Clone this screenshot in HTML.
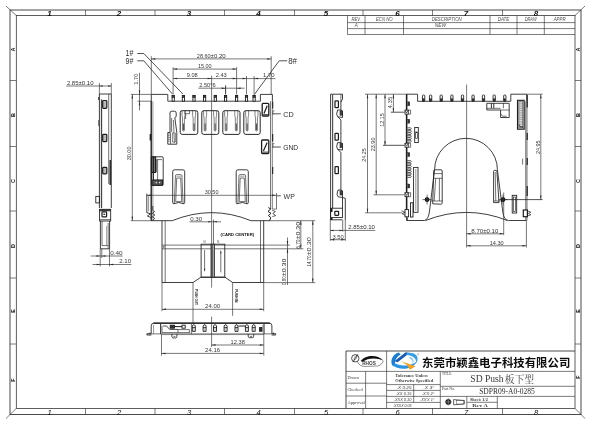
<!DOCTYPE html>
<html><head><meta charset="utf-8"><title>SD Push</title>
<style>html,body{margin:0;padding:0;background:#fff;}body{width:600px;height:424px;overflow:hidden;font-family:"Liberation Sans",sans-serif;}svg{display:block;will-change:transform}</style>
</head><body>
<svg width="600" height="424" viewBox="0 0 600 424" fill="none" stroke-linecap="butt" stroke-linejoin="miter">
<rect x="0" y="0" width="600" height="424" fill="#fff"/>
<rect x="10" y="10" width="571" height="404.5" rx="0" stroke="#2a2a2a" stroke-width="0.85" fill="none"/>
<rect x="16.3" y="15.5" width="558.7" height="392.9" rx="0" stroke="#2a2a2a" stroke-width="0.75" fill="none"/>
<path d="M16.3 15.5L6 6" stroke="#2a2a2a" stroke-width="0.62"/>
<path d="M575 15.5L585 6" stroke="#2a2a2a" stroke-width="0.62"/>
<path d="M16.3 408.4L6 418.5" stroke="#2a2a2a" stroke-width="0.62"/>
<path d="M575 408.4L585 418.5" stroke="#2a2a2a" stroke-width="0.62"/>
<path d="M85.5 10L85.5 15.5" stroke="#2a2a2a" stroke-width="0.62"/>
<path d="M85.5 408.4L85.5 414.5" stroke="#2a2a2a" stroke-width="0.62"/>
<path d="M155 10L155 15.5" stroke="#2a2a2a" stroke-width="0.62"/>
<path d="M155 408.4L155 414.5" stroke="#2a2a2a" stroke-width="0.62"/>
<path d="M224.5 10L224.5 15.5" stroke="#2a2a2a" stroke-width="0.62"/>
<path d="M224.5 408.4L224.5 414.5" stroke="#2a2a2a" stroke-width="0.62"/>
<path d="M294.5 10L294.5 15.5" stroke="#2a2a2a" stroke-width="0.62"/>
<path d="M294.5 408.4L294.5 414.5" stroke="#2a2a2a" stroke-width="0.62"/>
<path d="M363 10L363 15.5" stroke="#2a2a2a" stroke-width="0.62"/>
<path d="M363 408.4L363 414.5" stroke="#2a2a2a" stroke-width="0.62"/>
<path d="M432.5 10L432.5 15.5" stroke="#2a2a2a" stroke-width="0.62"/>
<path d="M432.5 408.4L432.5 414.5" stroke="#2a2a2a" stroke-width="0.62"/>
<path d="M502.5 10L502.5 15.5" stroke="#2a2a2a" stroke-width="0.62"/>
<path d="M502.5 408.4L502.5 414.5" stroke="#2a2a2a" stroke-width="0.62"/>
<text x="49.5" y="15.7" font-family="Liberation Sans" font-size="8" text-anchor="middle" font-style="italic" font-weight="bold" fill="#111" stroke="none">1</text>
<text x="49.5" y="414.5" font-family="Liberation Sans" font-size="7.6" text-anchor="middle" font-style="italic" fill="#111" stroke="none">1</text>
<text x="119" y="15.7" font-family="Liberation Sans" font-size="8" text-anchor="middle" font-style="italic" font-weight="bold" fill="#111" stroke="none">2</text>
<text x="119" y="414.5" font-family="Liberation Sans" font-size="7.6" text-anchor="middle" font-style="italic" fill="#111" stroke="none">2</text>
<text x="189" y="15.7" font-family="Liberation Sans" font-size="8" text-anchor="middle" font-style="italic" font-weight="bold" fill="#111" stroke="none">3</text>
<text x="189" y="414.5" font-family="Liberation Sans" font-size="7.6" text-anchor="middle" font-style="italic" fill="#111" stroke="none">3</text>
<text x="258.5" y="15.7" font-family="Liberation Sans" font-size="8" text-anchor="middle" font-style="italic" font-weight="bold" fill="#111" stroke="none">4</text>
<text x="258.5" y="414.5" font-family="Liberation Sans" font-size="7.6" text-anchor="middle" font-style="italic" fill="#111" stroke="none">4</text>
<text x="326" y="15.7" font-family="Liberation Sans" font-size="8" text-anchor="middle" font-style="italic" font-weight="bold" fill="#111" stroke="none">5</text>
<text x="326" y="414.5" font-family="Liberation Sans" font-size="7.6" text-anchor="middle" font-style="italic" fill="#111" stroke="none">5</text>
<text x="397.5" y="15.7" font-family="Liberation Sans" font-size="8" text-anchor="middle" font-style="italic" font-weight="bold" fill="#111" stroke="none">6</text>
<text x="397.5" y="414.5" font-family="Liberation Sans" font-size="7.6" text-anchor="middle" font-style="italic" fill="#111" stroke="none">6</text>
<text x="466" y="15.7" font-family="Liberation Sans" font-size="8" text-anchor="middle" font-style="italic" font-weight="bold" fill="#111" stroke="none">7</text>
<text x="466" y="414.5" font-family="Liberation Sans" font-size="7.6" text-anchor="middle" font-style="italic" fill="#111" stroke="none">7</text>
<text x="536" y="15.7" font-family="Liberation Sans" font-size="8" text-anchor="middle" font-style="italic" font-weight="bold" fill="#111" stroke="none">8</text>
<text x="536" y="414.5" font-family="Liberation Sans" font-size="7.6" text-anchor="middle" font-style="italic" fill="#111" stroke="none">8</text>
<path d="M10 80.5L16.3 80.5" stroke="#2a2a2a" stroke-width="0.62"/>
<path d="M575 80.5L581 80.5" stroke="#2a2a2a" stroke-width="0.62"/>
<path d="M10 146.5L16.3 146.5" stroke="#2a2a2a" stroke-width="0.62"/>
<path d="M575 146.5L581 146.5" stroke="#2a2a2a" stroke-width="0.62"/>
<path d="M10 211L16.3 211" stroke="#2a2a2a" stroke-width="0.62"/>
<path d="M575 211L581 211" stroke="#2a2a2a" stroke-width="0.62"/>
<path d="M10 278L16.3 278" stroke="#2a2a2a" stroke-width="0.62"/>
<path d="M575 278L581 278" stroke="#2a2a2a" stroke-width="0.62"/>
<path d="M10 344L16.3 344" stroke="#2a2a2a" stroke-width="0.62"/>
<path d="M575 344L581 344" stroke="#2a2a2a" stroke-width="0.62"/>
<text x="15.3" y="49.5" font-family="Liberation Sans" font-size="5.4" text-anchor="middle" transform="rotate(-90 15.3 49.5)" font-weight="bold" fill="#111" stroke="none">A</text>
<text x="580.3" y="49.5" font-family="Liberation Sans" font-size="5.4" text-anchor="middle" transform="rotate(-90 580.3 49.5)" font-weight="bold" fill="#111" stroke="none">A</text>
<text x="15.3" y="115" font-family="Liberation Sans" font-size="5.4" text-anchor="middle" transform="rotate(-90 15.3 115)" font-weight="bold" fill="#111" stroke="none">B</text>
<text x="580.3" y="115" font-family="Liberation Sans" font-size="5.4" text-anchor="middle" transform="rotate(-90 580.3 115)" font-weight="bold" fill="#111" stroke="none">B</text>
<text x="15.3" y="181" font-family="Liberation Sans" font-size="5.4" text-anchor="middle" transform="rotate(-90 15.3 181)" font-weight="bold" fill="#111" stroke="none">C</text>
<text x="580.3" y="181" font-family="Liberation Sans" font-size="5.4" text-anchor="middle" transform="rotate(-90 580.3 181)" font-weight="bold" fill="#111" stroke="none">C</text>
<text x="15.3" y="246" font-family="Liberation Sans" font-size="5.4" text-anchor="middle" transform="rotate(-90 15.3 246)" font-weight="bold" fill="#111" stroke="none">D</text>
<text x="580.3" y="246" font-family="Liberation Sans" font-size="5.4" text-anchor="middle" transform="rotate(-90 580.3 246)" font-weight="bold" fill="#111" stroke="none">D</text>
<text x="15.3" y="311" font-family="Liberation Sans" font-size="5.4" text-anchor="middle" transform="rotate(-90 15.3 311)" font-weight="bold" fill="#111" stroke="none">E</text>
<text x="580.3" y="311" font-family="Liberation Sans" font-size="5.4" text-anchor="middle" transform="rotate(-90 580.3 311)" font-weight="bold" fill="#111" stroke="none">E</text>
<text x="15.3" y="380" font-family="Liberation Sans" font-size="5.4" text-anchor="middle" transform="rotate(-90 15.3 380)" font-weight="bold" fill="#111" stroke="none">F</text>
<text x="580.3" y="377" font-family="Liberation Sans" font-size="5.4" text-anchor="middle" transform="rotate(-90 580.3 377)" font-weight="bold" fill="#111" stroke="none">F</text>
<path d="M347.5 22.6L575 22.6" stroke="#2a2a2a" stroke-width="0.62"/>
<path d="M347.5 28.6L575 28.6" stroke="#2a2a2a" stroke-width="0.62"/>
<path d="M347.5 34.5L575 34.5" stroke="#2a2a2a" stroke-width="0.62"/>
<path d="M347.5 15.5L347.5 34.5" stroke="#2a2a2a" stroke-width="0.62"/>
<path d="M365 15.5L365 34.5" stroke="#2a2a2a" stroke-width="0.62"/>
<path d="M403.5 15.5L403.5 34.5" stroke="#2a2a2a" stroke-width="0.62"/>
<path d="M490 15.5L490 34.5" stroke="#2a2a2a" stroke-width="0.62"/>
<path d="M517 15.5L517 34.5" stroke="#2a2a2a" stroke-width="0.62"/>
<path d="M544.3 15.5L544.3 34.5" stroke="#2a2a2a" stroke-width="0.62"/>
<text x="356.25" y="20.7" font-family="Liberation Sans" font-size="4.5" text-anchor="middle" font-style="italic" textLength="9.4" lengthAdjust="spacingAndGlyphs" fill="#505050" stroke="none">REV.</text>
<text x="384.25" y="20.7" font-family="Liberation Sans" font-size="4.5" text-anchor="middle" font-style="italic" textLength="16.5" lengthAdjust="spacingAndGlyphs" fill="#505050" stroke="none">ECN NO</text>
<text x="446.75" y="20.7" font-family="Liberation Sans" font-size="4.5" text-anchor="middle" font-style="italic" textLength="30" lengthAdjust="spacingAndGlyphs" fill="#505050" stroke="none">DESCRIPTION</text>
<text x="503.5" y="20.7" font-family="Liberation Sans" font-size="4.5" text-anchor="middle" font-style="italic" textLength="11.7" lengthAdjust="spacingAndGlyphs" fill="#505050" stroke="none">DATE</text>
<text x="530.65" y="20.7" font-family="Liberation Sans" font-size="4.5" text-anchor="middle" font-style="italic" textLength="12" lengthAdjust="spacingAndGlyphs" fill="#505050" stroke="none">DRAW</text>
<text x="559.65" y="20.7" font-family="Liberation Sans" font-size="4.5" text-anchor="middle" font-style="italic" textLength="12" lengthAdjust="spacingAndGlyphs" fill="#505050" stroke="none">APPR</text>
<text x="356.25" y="26.9" font-family="Liberation Sans" font-size="4.5" text-anchor="middle" font-style="italic" fill="#505050" stroke="none">A</text>
<text x="440.35" y="26.9" font-family="Liberation Sans" font-size="4.5" text-anchor="middle" font-style="italic" textLength="11.3" lengthAdjust="spacingAndGlyphs" fill="#505050" stroke="none">NEW</text>
<path d="M346 351L575 351" stroke="#2a2a2a" stroke-width="0.85"/>
<path d="M346 351L346 408.4" stroke="#2a2a2a" stroke-width="0.85"/>
<path d="M346 371.4L575 371.4" stroke="#2a2a2a" stroke-width="0.62"/>
<path d="M386.6 351L386.6 408.4" stroke="#2a2a2a" stroke-width="0.62"/>
<path d="M365.6 371.4L365.6 408.4" stroke="#2a2a2a" stroke-width="0.62"/>
<path d="M346 383.2L386.6 383.2" stroke="#2a2a2a" stroke-width="0.62"/>
<path d="M346 396L386.6 396" stroke="#2a2a2a" stroke-width="0.62"/>
<path d="M386.6 384.6L440.3 384.6" stroke="#2a2a2a" stroke-width="0.62"/>
<path d="M386.6 390.4L440.3 390.4" stroke="#2a2a2a" stroke-width="0.62"/>
<path d="M386.6 396.4L440.3 396.4" stroke="#2a2a2a" stroke-width="0.62"/>
<path d="M386.6 402.4L440.3 402.4" stroke="#2a2a2a" stroke-width="0.62"/>
<path d="M413.7 384.6L413.7 402.4" stroke="#2a2a2a" stroke-width="0.62"/>
<path d="M440.3 371.4L440.3 408.4" stroke="#2a2a2a" stroke-width="0.62"/>
<path d="M440.3 386.3L575 386.3" stroke="#2a2a2a" stroke-width="0.62"/>
<path d="M440.3 396.4L575 396.4" stroke="#2a2a2a" stroke-width="0.62"/>
<path d="M466.8 396.4L466.8 408.4" stroke="#2a2a2a" stroke-width="0.62"/>
<path d="M497.3 396.4L497.3 408.4" stroke="#2a2a2a" stroke-width="0.62"/>
<path d="M466.8 402.3L497.3 402.3" stroke="#2a2a2a" stroke-width="0.62"/>
<text x="347.4" y="378.6" font-family="Liberation Serif" font-size="4.3" textLength="11.4" lengthAdjust="spacingAndGlyphs" fill="#3c3c3c" stroke="none">Drawn</text>
<text x="347.4" y="391.2" font-family="Liberation Serif" font-size="4.3" textLength="15.2" lengthAdjust="spacingAndGlyphs" fill="#3c3c3c" stroke="none">Checked</text>
<text x="347.4" y="403.8" font-family="Liberation Serif" font-size="4.3" textLength="17.4" lengthAdjust="spacingAndGlyphs" fill="#3c3c3c" stroke="none">Approval</text>
<text x="411.6" y="376.8" font-family="Liberation Serif" font-size="4.5" text-anchor="middle" font-weight="bold" textLength="32.5" lengthAdjust="spacingAndGlyphs" fill="#3c3c3c" stroke="none">Tolerance Unless</text>
<text x="414.2" y="382" font-family="Liberation Serif" font-size="4.5" text-anchor="middle" font-weight="bold" textLength="37.9" lengthAdjust="spacingAndGlyphs" fill="#3c3c3c" stroke="none">Otherwise Specified</text>
<text x="396.8" y="389" font-family="Liberation Sans" font-size="3.6" font-style="italic" textLength="14.7" lengthAdjust="spacingAndGlyphs" fill="#3c3c3c" stroke="none">.X  0.25</text>
<text x="423.4" y="389" font-family="Liberation Sans" font-size="3.6" font-style="italic" textLength="10.9" lengthAdjust="spacingAndGlyphs" fill="#3c3c3c" stroke="none">.X   3°</text>
<text x="396" y="394.9" font-family="Liberation Sans" font-size="3.6" font-style="italic" textLength="15.5" lengthAdjust="spacingAndGlyphs" fill="#3c3c3c" stroke="none">.XX  0.15</text>
<text x="421.9" y="394.9" font-family="Liberation Sans" font-size="3.6" font-style="italic" textLength="12.4" lengthAdjust="spacingAndGlyphs" fill="#3c3c3c" stroke="none">.X'X  2°</text>
<text x="393.8" y="400.9" font-family="Liberation Sans" font-size="3.6" font-style="italic" textLength="17.7" lengthAdjust="spacingAndGlyphs" fill="#3c3c3c" stroke="none">.XXX  0.10</text>
<text x="420.2" y="400.9" font-family="Liberation Sans" font-size="3.6" font-style="italic" textLength="14.1" lengthAdjust="spacingAndGlyphs" fill="#3c3c3c" stroke="none">.XX'X  1°</text>
<text x="393" y="406.8" font-family="Liberation Sans" font-size="3.6" font-style="italic" textLength="18.5" lengthAdjust="spacingAndGlyphs" fill="#3c3c3c" stroke="none">.XXXX  0.05</text>
<text x="441.9" y="375.4" font-family="Liberation Serif" font-size="3.7" textLength="10.2" lengthAdjust="spacingAndGlyphs" fill="#3c3c3c" stroke="none">TITLE:</text>
<text x="441.9" y="390.4" font-family="Liberation Serif" font-size="3.7" textLength="13.3" lengthAdjust="spacingAndGlyphs" fill="#3c3c3c" stroke="none">Part No.</text>
<text x="469.9" y="400.9" font-family="Liberation Serif" font-size="3.5" font-weight="bold" textLength="17.9" lengthAdjust="spacingAndGlyphs" fill="#3c3c3c" stroke="none">Sheet:  1/2</text>
<text x="472.2" y="407" font-family="Liberation Serif" font-size="3.5" font-weight="bold" textLength="15.6" lengthAdjust="spacingAndGlyphs" fill="#3c3c3c" stroke="none">Rev    A</text>
<text x="470.3" y="382.2" font-family="Liberation Serif" font-size="9.6" fill="#3a3a3a" stroke="none">SD Push</text>
<text x="504.7" y="382.6" font-family="'Liberation Serif', 'Noto Serif CJK SC', serif" font-size="9.8" textLength="29.4" lengthAdjust="spacingAndGlyphs" fill="#444" stroke="none">板下型</text>
<text x="507" y="394.4" font-family="Liberation Serif" font-size="7.4" text-anchor="middle" textLength="55.6" lengthAdjust="spacingAndGlyphs" fill="#2c2c2c" stroke="none">SDPR09-A0-0285</text>
<circle cx="448.3" cy="401.9" r="2.7" stroke="#222" stroke-width="0.4" fill="#222"/>
<path d="M444.6 401.9L452 401.9" stroke="#222" stroke-width="0.35"/>
<path d="M448.3 398.2L448.3 405.6" stroke="#222" stroke-width="0.35"/>
<path d="M446.2 401.9L450.4 401.9" stroke="#fff" stroke-width="0.35"/>
<path d="M448.3 399.8L448.3 404" stroke="#fff" stroke-width="0.35"/>
<path d="M453.6 399.6L464.4 400.5L464.4 403.9L453.6 404.8Z" stroke="#222" stroke-width="0.7" fill="none"/>
<rect x="456.2" y="400.3" width="7" height="3.8" rx="0" stroke="#222" stroke-width="0.4" fill="none"/>
<text x="422.1" y="366.7" font-family="'Liberation Sans', 'Noto Sans CJK SC', sans-serif" font-size="11.4" font-weight="bold" textLength="148.2" lengthAdjust="spacingAndGlyphs" fill="#0c0c0c" stroke="none">东莞市颖鑫电子科技有限公司</text>
<path d="M398.67 352.6C392.8 354.33 389.87 360.47 392.27 365.4L395.33 365.93C394 361.67 396 357.27 400.8 354.33Z" fill="#1c7ed2"/>
<path d="M405.6 352.2L409.6 353L397.6 362.33L394.4 361.27Z" fill="#1a5cb0"/>
<path d="M407.73 352.73C415.47 351.93 420 356.73 416.4 362.87C416.13 358.6 413.33 355.67 405.87 354.87Z" fill="#3aa0e6"/>
<path d="M392.53 365C398.67 371.13 414.13 370.07 417.47 360.2C413.87 365.53 402.67 367.13 395.73 363.4Z" fill="#2b93e0"/>
<path d="M410.13 356.73C413.6 358.6 414.67 361.53 412.53 364.47C413.07 361.53 412 359.4 409.07 358.07Z" fill="#8ccbf4"/>
<path d="M401.6 361.27L415.47 366.2L409.87 369.67L407.2 365.13Z" fill="#f5a21e"/>
<circle cx="418.13" cy="354.33" r="0.95" stroke="#666" stroke-width="0.3" fill="none"/>
<circle cx="355.3" cy="358.3" r="3.7" stroke="#222" stroke-width="0.8" fill="none"/>
<path d="M352.9 362.2L357.7 354.4" stroke="#222" stroke-width="0.8"/>
<ellipse cx="355.6" cy="357.6" rx="1.0" ry="2.6" transform="rotate(32 355.6 357.6)" fill="none" stroke="#333" stroke-width="0.4"/>
<path d="M360.6 361C365 355.2 377 353.6 383.2 360.6C377 357.4 368 357.6 362.4 361.8Z" fill="#111"/>
<path d="M357.4 361.6C358.6 365 361.6 366.6 365.6 366.4L377.6 366C381 365.4 382.8 363 383.2 360.6" fill="none" stroke="#222" stroke-width="0.5"/>
<text x="369" y="365.3" font-family="Liberation Sans" font-size="4.6" text-anchor="middle" font-weight="bold" textLength="13.6" lengthAdjust="spacingAndGlyphs" fill="#3a3a3a" stroke="none">RHOS</text>
<path d="M151.3 220.7L151.3 94.4L167.8 94.4L167.8 101.2L260.4 101.2L260.4 94.4L272.4 94.4L272.4 101.2" stroke="#1c1c1c" stroke-width="0.85" fill="none"/>
<path d="M151.15 101.2L151.15 220.7" stroke="#1c1c1c" stroke-width="1.0"/>
<path d="M152.9 101.2L152.9 220.7" stroke="#555" stroke-width="0.62"/>
<path d="M150.4 134L150.4 140.5" stroke="#1c1c1c" stroke-width="1.5"/>
<path d="M270.5 101.2L270.5 209" stroke="#555" stroke-width="0.8"/>
<path d="M272.3 101.2L272.3 209" stroke="#555" stroke-width="0.8"/>
<path d="M272.7 101.4L272.7 108.6" stroke="#1c1c1c" stroke-width="1.1"/>
<path d="M272.7 134L272.7 141.4" stroke="#1c1c1c" stroke-width="1.1"/>
<path d="M272.7 167L272.7 174" stroke="#1c1c1c" stroke-width="1.1"/>
<rect x="172.1" y="95.4" width="2.2" height="5.8" rx="0" stroke="#1c1c1c" stroke-width="0.9" fill="#fff"/>
<rect x="172.1" y="95.4" width="2.2" height="2.2" rx="0" stroke="#1c1c1c" stroke-width="0.6" fill="#444"/>
<rect x="182.3" y="95.4" width="2.2" height="5.8" rx="0" stroke="#1c1c1c" stroke-width="0.9" fill="#fff"/>
<rect x="182.3" y="95.4" width="2.2" height="2.2" rx="0" stroke="#1c1c1c" stroke-width="0.6" fill="#444"/>
<rect x="192.9" y="95.4" width="2.2" height="5.8" rx="0" stroke="#1c1c1c" stroke-width="0.9" fill="#fff"/>
<rect x="192.9" y="95.4" width="2.2" height="2.2" rx="0" stroke="#1c1c1c" stroke-width="0.6" fill="#444"/>
<rect x="203.5" y="95.4" width="2.2" height="5.8" rx="0" stroke="#1c1c1c" stroke-width="0.9" fill="#fff"/>
<rect x="203.5" y="95.4" width="2.2" height="2.2" rx="0" stroke="#1c1c1c" stroke-width="0.6" fill="#444"/>
<rect x="214.2" y="95.4" width="2.2" height="5.8" rx="0" stroke="#1c1c1c" stroke-width="0.9" fill="#fff"/>
<rect x="214.2" y="95.4" width="2.2" height="2.2" rx="0" stroke="#1c1c1c" stroke-width="0.6" fill="#444"/>
<rect x="224.5" y="95.4" width="2.2" height="5.8" rx="0" stroke="#1c1c1c" stroke-width="0.9" fill="#fff"/>
<rect x="224.5" y="95.4" width="2.2" height="2.2" rx="0" stroke="#1c1c1c" stroke-width="0.6" fill="#444"/>
<rect x="235.5" y="95.4" width="2.2" height="5.8" rx="0" stroke="#1c1c1c" stroke-width="0.9" fill="#fff"/>
<rect x="235.5" y="95.4" width="2.2" height="2.2" rx="0" stroke="#1c1c1c" stroke-width="0.6" fill="#444"/>
<rect x="245.4" y="95.4" width="2.2" height="5.8" rx="0" stroke="#1c1c1c" stroke-width="0.9" fill="#fff"/>
<rect x="245.4" y="95.4" width="2.2" height="2.2" rx="0" stroke="#1c1c1c" stroke-width="0.6" fill="#444"/>
<rect x="253" y="95.4" width="2.2" height="5.8" rx="0" stroke="#1c1c1c" stroke-width="0.9" fill="#fff"/>
<rect x="253" y="95.4" width="2.2" height="2.2" rx="0" stroke="#1c1c1c" stroke-width="0.6" fill="#444"/>
<rect x="180.2" y="110.7" width="17.6" height="23.7" rx="2" stroke="#1c1c1c" stroke-width="0.95" fill="none"/>
<path d="M182 110.7L182 115.4L182.55 118L182.55 130.4Q183.5 131.8 184.45 130.4L184.45 118L185 115.4L185 110.7" stroke="#333" stroke-width="0.6" fill="none"/>
<path d="M183.5 123.5L183.5 130.4" stroke="#555" stroke-width="1.2"/>
<path d="M192.6 110.7L192.6 115.4L193.15 118L193.15 130.4Q194.1 131.8 195.05 130.4L195.05 118L195.6 115.4L195.6 110.7" stroke="#333" stroke-width="0.6" fill="none"/>
<path d="M194.1 123.5L194.1 130.4" stroke="#555" stroke-width="1.2"/>
<rect x="201.8" y="110.7" width="17" height="23.7" rx="2" stroke="#1c1c1c" stroke-width="0.95" fill="none"/>
<path d="M203.6 110.7L203.6 115.4L204.15 118L204.15 130.4Q205.1 131.8 206.05 130.4L206.05 118L206.6 115.4L206.6 110.7" stroke="#333" stroke-width="0.6" fill="none"/>
<path d="M205.1 123.5L205.1 130.4" stroke="#555" stroke-width="1.2"/>
<path d="M213.6 110.7L213.6 115.4L214.15 118L214.15 130.4Q215.1 131.8 216.05 130.4L216.05 118L216.6 115.4L216.6 110.7" stroke="#333" stroke-width="0.6" fill="none"/>
<path d="M215.1 123.5L215.1 130.4" stroke="#555" stroke-width="1.2"/>
<rect x="222.8" y="110.7" width="17.2" height="23.7" rx="2" stroke="#1c1c1c" stroke-width="0.95" fill="none"/>
<path d="M224.6 110.7L224.6 115.4L225.15 118L225.15 130.4Q226.1 131.8 227.05 130.4L227.05 118L227.6 115.4L227.6 110.7" stroke="#333" stroke-width="0.6" fill="none"/>
<path d="M226.1 123.5L226.1 130.4" stroke="#555" stroke-width="1.2"/>
<path d="M234.8 110.7L234.8 115.4L235.35 118L235.35 130.4Q236.3 131.8 237.25 130.4L237.25 118L237.8 115.4L237.8 110.7" stroke="#333" stroke-width="0.6" fill="none"/>
<path d="M236.3 123.5L236.3 130.4" stroke="#555" stroke-width="1.2"/>
<rect x="243.8" y="110.7" width="16.4" height="23.7" rx="2" stroke="#1c1c1c" stroke-width="0.95" fill="none"/>
<path d="M245.6 110.7L245.6 115.4L246.15 118L246.15 130.4Q247.1 131.8 248.05 130.4L248.05 118L248.6 115.4L248.6 110.7" stroke="#333" stroke-width="0.6" fill="none"/>
<path d="M247.1 123.5L247.1 130.4" stroke="#555" stroke-width="1.2"/>
<path d="M255 110.7L255 115.4L255.55 118L255.55 130.4Q256.5 131.8 257.45 130.4L257.45 118L258 115.4L258 110.7" stroke="#333" stroke-width="0.6" fill="none"/>
<path d="M256.5 123.5L256.5 130.4" stroke="#555" stroke-width="1.2"/>
<path d="M185 110.7L185 113.7L189.5 113.7L189.5 110.7" stroke="#1c1c1c" stroke-width="0.62" fill="none"/>
<path d="M185.6 113.7L185.6 119" stroke="#1c1c1c" stroke-width="0.62"/>
<path d="M170 132.5L170 113Q170 111.2 171.8 111.2L174.4 111.2Q176.2 111.2 176.2 113L176.2 116.6L174.8 117.6L176.8 132.5L176.8 144.2L167.8 144.2L167.8 132.5Z" stroke="#1c1c1c" stroke-width="0.85" fill="none"/>
<path d="M167.8 134L170.6 134" stroke="#1c1c1c" stroke-width="0.5"/>
<path d="M167.8 135.8L170.6 135.8" stroke="#1c1c1c" stroke-width="0.5"/>
<path d="M167.8 137.6L170.6 137.6" stroke="#1c1c1c" stroke-width="0.5"/>
<path d="M167.8 139.4L170.6 139.4" stroke="#1c1c1c" stroke-width="0.5"/>
<path d="M167.8 141.2L170.6 141.2" stroke="#1c1c1c" stroke-width="0.5"/>
<path d="M170.6 132.5L170.6 144.2" stroke="#1c1c1c" stroke-width="0.62"/>
<path d="M171.6 118L171.6 132" stroke="#1c1c1c" stroke-width="0.62"/>
<path d="M173.4 120L174.4 143" stroke="#1c1c1c" stroke-width="0.62"/>
<rect x="172.4" y="133" width="3" height="9" rx="0" stroke="#555" stroke-width="0.62" fill="none"/>
<rect x="262.2" y="103.3" width="6.6" height="12.7" rx="0.9" stroke="#1c1c1c" stroke-width="1.3" fill="#fff"/>
<path d="M264 113.6L267.2 105.7" stroke="#1c1c1c" stroke-width="1.2"/>
<path d="M263.1 114.6L268 114.6" stroke="#333" stroke-width="0.9"/>
<rect x="261.6" y="140" width="7.2" height="13.5" rx="0.9" stroke="#1c1c1c" stroke-width="1.3" fill="#fff"/>
<path d="M263.4 151.1L267.2 142.4" stroke="#1c1c1c" stroke-width="1.2"/>
<path d="M262.5 152.1L268 152.1" stroke="#333" stroke-width="0.9"/>
<rect x="151.3" y="156.8" width="11.9" height="28.6" rx="0.8" stroke="#1c1c1c" stroke-width="0.85" fill="none"/>
<rect x="151.6" y="157" width="4" height="15.5" rx="0" stroke="#1c1c1c" stroke-width="1.1" fill="#777"/>
<path d="M153.4 157L153.4 180" stroke="#1c1c1c" stroke-width="1.0"/>
<path d="M156.4 159.6L162 159.6" stroke="#1c1c1c" stroke-width="0.62"/>
<path d="M156.4 159.6L156.4 172" stroke="#1c1c1c" stroke-width="0.62"/>
<path d="M157.6 159.6L157.6 180" stroke="#1c1c1c" stroke-width="0.62"/>
<rect x="152.8" y="180" width="9.6" height="5.2" rx="0" stroke="#1c1c1c" stroke-width="1.1" fill="#666"/>
<rect x="155.2" y="181.4" width="2.2" height="2.4" rx="0" stroke="#222" stroke-width="0.5" fill="#ddd"/>
<rect x="158.6" y="181.4" width="2.2" height="2.4" rx="0" stroke="#222" stroke-width="0.5" fill="#ddd"/>
<path d="M173.3 203.8L172.7 202.6L172.7 171.6Q172.7 169.8 174.5 169.8L182.9 169.8Q184.7 169.8 184.7 171.6L184.7 202.6L184.1 203.8" stroke="#1c1c1c" stroke-width="0.85" fill="none"/>
<path d="M174.3 203.8L175.5 175.6Q175.6 174.6 176.5 174.6L180.9 174.6Q181.8 174.6 181.9 175.6L183.1 203.8" stroke="#1c1c1c" stroke-width="0.62" fill="none"/>
<path d="M175.7 201.6L176.7 178L180.7 178L181.7 201.6" stroke="#1c1c1c" stroke-width="0.62" fill="none"/>
<path d="M176.3 176.2L181.1 176.2" stroke="#666" stroke-width="0.62"/>
<path d="M173.3 203.8Q178.7 201.2 184.1 203.8" stroke="#1c1c1c" stroke-width="0.85" fill="none"/>
<path d="M175.7 201.6L181.7 201.6" stroke="#1c1c1c" stroke-width="0.62"/>
<path d="M236.8 203.8L236.2 202.6L236.2 171.6Q236.2 169.8 238 169.8L246.5 169.8Q248.3 169.8 248.3 171.6L248.3 202.6L247.7 203.8" stroke="#1c1c1c" stroke-width="0.85" fill="none"/>
<path d="M237.8 203.8L239 175.6Q239.1 174.6 240 174.6L244.5 174.6Q245.4 174.6 245.5 175.6L246.7 203.8" stroke="#1c1c1c" stroke-width="0.62" fill="none"/>
<path d="M239.2 201.6L240.2 178L244.3 178L245.3 201.6" stroke="#1c1c1c" stroke-width="0.62" fill="none"/>
<path d="M239.8 176.2L244.7 176.2" stroke="#666" stroke-width="0.62"/>
<path d="M236.8 203.8Q242.25 201.2 247.7 203.8" stroke="#1c1c1c" stroke-width="0.85" fill="none"/>
<path d="M239.2 201.6L245.3 201.6" stroke="#1c1c1c" stroke-width="0.62"/>
<path d="M151.3 220.7L172.2 220.7Q211.6 204.6 251 220.7L270 220.7" stroke="#1c1c1c" stroke-width="0.85" fill="none"/>
<path d="M146.8 193.6L146.8 212.6L150.6 213.8L147.4 216L150.8 217.6" stroke="#1c1c1c" stroke-width="0.85" fill="none"/>
<path d="M148.6 196L148.6 211.4" stroke="#555" stroke-width="0.62"/>
<path d="M152.8 206L152.8 210.4L154.6 211.6L152.4 213.4L154.8 215L152.4 216.8L154.6 218.4L152.6 220.7" stroke="#1c1c1c" stroke-width="0.8" fill="none"/>
<path d="M268.4 207.6L270.8 209L268 211.4L271 213.4L268.4 215.6L270.8 217.6L269.6 220.7" stroke="#1c1c1c" stroke-width="1.0" fill="none"/>
<path d="M272.2 210.2L275.4 211.6L272.8 213.4L275.6 215.6L272.4 216.6" stroke="#1c1c1c" stroke-width="0.7" fill="none"/>
<path d="M162 220.7L162 282.5" stroke="#1c1c1c" stroke-width="0.85"/>
<path d="M165.2 220.7L165.2 282.5" stroke="#1c1c1c" stroke-width="0.62"/>
<path d="M263.7 220.7L263.7 282.5" stroke="#1c1c1c" stroke-width="0.85"/>
<path d="M260.5 220.7L260.5 282.5" stroke="#1c1c1c" stroke-width="0.62"/>
<path d="M162 245.1L263.7 245.1" stroke="#1c1c1c" stroke-width="0.62"/>
<path d="M162 248.8L263.7 248.8" stroke="#1c1c1c" stroke-width="0.62"/>
<path d="M162.2 246.9L164.4 246L164.4 247.8Z" fill="#262626" stroke="none"/>
<path d="M162 282.5L193 282.5L200.9 277.2L225 277.2L232.6 282.5L263.7 282.5" stroke="#1c1c1c" stroke-width="0.85" fill="none"/>
<rect x="201.1" y="244.2" width="23.7" height="33" rx="0" stroke="#1c1c1c" stroke-width="0.85" fill="none"/>
<rect x="211" y="244.2" width="3.4" height="33" rx="0" stroke="#222" stroke-width="0.8" fill="#bbb"/>
<path d="M212.7 244.2L212.7 277.2" stroke="#111" stroke-width="0.6"/>
<path d="M204.6 250L204.6 269" stroke="#1c1c1c" stroke-width="0.62"/>
<path d="M204.6 272L203.8 268.8L205.4 268.8Z" fill="#262626" stroke="none"/>
<path d="M220.8 272.4L220.8 253" stroke="#1c1c1c" stroke-width="0.62"/>
<path d="M220.8 250L221.6 253.2L220 253.2Z" fill="#262626" stroke="none"/>
<text x="204.6" y="242.8" font-family="Liberation Sans" font-size="2.8" text-anchor="middle" fill="#444" stroke="none">N</text>
<text x="218.2" y="242.8" font-family="Liberation Sans" font-size="2.8" text-anchor="middle" fill="#444" stroke="none">N</text>
<path d="M211.6 75.6L211.6 287.6" stroke="#262626" stroke-width="0.62"/>
<path d="M211.6 316.6L211.6 335" stroke="#262626" stroke-width="0.62"/>
<path d="M213.5 219.6L213.5 244.2" stroke="#262626" stroke-width="0.62"/>
<path d="M193 282.5L193 323.2" stroke="#262626" stroke-width="0.62"/>
<path d="M232.6 282.5L232.6 315.8" stroke="#262626" stroke-width="0.62"/>
<text x="194.6" y="297" font-family="Liberation Sans" font-size="3.3" text-anchor="middle" transform="rotate(90 194.6 297)" font-weight="bold" textLength="15.8" lengthAdjust="spacingAndGlyphs" fill="#111" stroke="none">PUSH OUT</text>
<text x="234.6" y="295.8" font-family="Liberation Sans" font-size="3.3" text-anchor="middle" transform="rotate(90 234.6 295.8)" font-weight="bold" textLength="13.3" lengthAdjust="spacingAndGlyphs" fill="#111" stroke="none">PUSH IN</text>
<text x="237.3" y="235.6" font-family="Liberation Sans" font-size="4.0" text-anchor="middle" font-weight="bold" textLength="33.6" lengthAdjust="spacingAndGlyphs" fill="#111" stroke="none">(CARD CENTER)</text>
<path d="M151.3 56.2L151.3 94.4" stroke="#262626" stroke-width="0.62"/>
<path d="M271.2 56.2L271.2 94.4" stroke="#262626" stroke-width="0.62"/>
<path d="M173.1 67.2L173.1 94.4" stroke="#262626" stroke-width="0.62"/>
<path d="M236.6 67.2L236.6 94.4" stroke="#262626" stroke-width="0.62"/>
<path d="M225.6 85.4L225.6 94.4" stroke="#262626" stroke-width="0.9"/>
<path d="M246.5 76L246.5 94.4" stroke="#262626" stroke-width="0.62"/>
<path d="M254.1 76L254.1 94.4" stroke="#262626" stroke-width="0.62"/>
<path d="M151.3 58.9L271.2 58.9" stroke="#262626" stroke-width="0.62"/>
<path d="M151.3 58.9L155.3 58.15L155.3 59.65Z" fill="#262626" stroke="none"/>
<path d="M271.2 58.9L267.2 59.65L267.2 58.15Z" fill="#262626" stroke="none"/>
<g transform="translate(211.2 57.6)" stroke="none"><text x="-14.38" y="0" font-family="Liberation Sans" font-size="5.3" textLength="13.75" lengthAdjust="spacingAndGlyphs" fill="#383838">28.60</text><text x="-0.62" y="0" font-family="Liberation Sans" font-size="5.5" textLength="15" lengthAdjust="spacingAndGlyphs" fill="#262626">±0.20</text></g>
<path d="M173.1 69.1L236.6 69.1" stroke="#262626" stroke-width="0.62"/>
<path d="M173.1 69.1L177.1 68.35L177.1 69.85Z" fill="#262626" stroke="none"/>
<path d="M236.6 69.1L232.6 69.85L232.6 68.35Z" fill="#262626" stroke="none"/>
<g transform="translate(204.8 67.8)" stroke="none"><text x="-6.88" y="0" font-family="Liberation Sans" font-size="5.3" textLength="13.75" lengthAdjust="spacingAndGlyphs" fill="#383838">15.00</text></g>
<path d="M173.1 78.5L211.6 78.5" stroke="#262626" stroke-width="0.62"/>
<path d="M173.1 78.5L177.1 77.75L177.1 79.25Z" fill="#262626" stroke="none"/>
<path d="M211.6 78.5L207.6 79.25L207.6 77.75Z" fill="#262626" stroke="none"/>
<g transform="translate(192.2 77.2)" stroke="none"><text x="-5.5" y="0" font-family="Liberation Sans" font-size="5.3" textLength="11" lengthAdjust="spacingAndGlyphs" fill="#383838">9.08</text></g>
<path d="M211.6 78.6L275.4 78.6" stroke="#262626" stroke-width="0.62"/>
<path d="M236.6 78.6L232.6 79.35L232.6 77.85Z" fill="#262626" stroke="none"/>
<path d="M246.5 78.6L242.5 79.35L242.5 77.85Z" fill="#262626" stroke="none"/>
<path d="M254.1 78.6L258.1 77.85L258.1 79.35Z" fill="#262626" stroke="none"/>
<g transform="translate(221.2 77.2)" stroke="none"><text x="-5.5" y="0" font-family="Liberation Sans" font-size="5.3" textLength="11" lengthAdjust="spacingAndGlyphs" fill="#383838">2.43</text></g>
<g transform="translate(268.8 77.2)" stroke="none"><text x="-5.8" y="0" font-family="Liberation Sans" font-size="5.3" textLength="11.6" lengthAdjust="spacingAndGlyphs" fill="#383838">1.70</text></g>
<path d="M198.4 88.2L244.6 88.2" stroke="#262626" stroke-width="0.62"/>
<path d="M225.6 88.2L221.6 88.95L221.6 87.45Z" fill="#262626" stroke="none"/>
<path d="M236.6 88.2L240.6 87.45L240.6 88.95Z" fill="#262626" stroke="none"/>
<g transform="translate(207.4 87)" stroke="none"><text x="-8.25" y="0" font-family="Liberation Sans" font-size="5.3" textLength="16.5" lengthAdjust="spacingAndGlyphs" fill="#383838">2.50*6</text></g>
<path d="M130.8 94.4L151.3 94.4" stroke="#262626" stroke-width="0.62"/>
<path d="M137.6 101.2L151.3 101.2" stroke="#262626" stroke-width="0.62"/>
<path d="M139.5 72.8L139.5 110.4" stroke="#262626" stroke-width="0.62"/>
<path d="M139.5 94.4L138.75 90.4L140.25 90.4Z" fill="#262626" stroke="none"/>
<path d="M139.5 101.2L140.25 105.2L138.75 105.2Z" fill="#262626" stroke="none"/>
<g transform="translate(138.2 79.2) rotate(-90)" stroke="none"><text x="-5.5" y="0" font-family="Liberation Sans" font-size="5.3" textLength="11" lengthAdjust="spacingAndGlyphs" fill="#383838">1.70</text></g>
<path d="M132.3 94.4L132.3 220.7" stroke="#262626" stroke-width="0.62"/>
<path d="M132.3 94.4L133.05 98.4L131.55 98.4Z" fill="#262626" stroke="none"/>
<path d="M132.3 220.7L131.55 216.7L133.05 216.7Z" fill="#262626" stroke="none"/>
<g transform="translate(130.9 153.4) rotate(-90)" stroke="none"><text x="-6.88" y="0" font-family="Liberation Sans" font-size="5.3" textLength="13.75" lengthAdjust="spacingAndGlyphs" fill="#383838">30.00</text></g>
<path d="M130.8 220.7L151.3 220.7" stroke="#262626" stroke-width="0.62"/>
<path d="M276.5 193L276.5 209.1L272.4 209.1" stroke="#262626" stroke-width="0.62" fill="none"/>
<path d="M146.8 195.3L276.2 195.3" stroke="#262626" stroke-width="0.62"/>
<path d="M146.8 195.3L150.8 194.55L150.8 196.05Z" fill="#262626" stroke="none"/>
<path d="M276.2 195.3L272.2 196.05L272.2 194.55Z" fill="#262626" stroke="none"/>
<g transform="translate(211.6 194.2)" stroke="none"><text x="-6.88" y="0" font-family="Liberation Sans" font-size="5.3" textLength="13.75" lengthAdjust="spacingAndGlyphs" fill="#383838">30.50</text></g>
<path d="M137.3 53.5L143.8 53.5L182.8 94" stroke="#262626" stroke-width="0.8" fill="none"/>
<path d="M137.3 60.8L143.8 60.8L172.4 94" stroke="#262626" stroke-width="0.8" fill="none"/>
<path d="M287.2 60.8L279.2 60.8L254.3 94.6" stroke="#262626" stroke-width="0.8" fill="none"/>
<text x="133.4" y="56.4" font-family="Liberation Sans" font-size="8.2" text-anchor="end" textLength="7.8" lengthAdjust="spacingAndGlyphs" fill="#2e2e2e" stroke="none">1#</text>
<text x="133.4" y="63.8" font-family="Liberation Sans" font-size="8.2" text-anchor="end" textLength="7.8" lengthAdjust="spacingAndGlyphs" fill="#2e2e2e" stroke="none">9#</text>
<text x="288.2" y="63.7" font-family="Liberation Sans" font-size="8.2" textLength="8.8" lengthAdjust="spacingAndGlyphs" fill="#2e2e2e" stroke="none">8#</text>
<path d="M272.7 113.8L280.8 113.8" stroke="#262626" stroke-width="0.8"/>
<path d="M272.7 147L280.8 147" stroke="#262626" stroke-width="0.8"/>
<path d="M276.7 195.8L280.8 195.8" stroke="#262626" stroke-width="0.8"/>
<path d="M274.4 110.8L272.9 110.8L272.9 114.6" stroke="#262626" stroke-width="0.6" fill="none"/>
<path d="M274.4 143.6L272.9 143.6L272.9 147.8" stroke="#262626" stroke-width="0.6" fill="none"/>
<text x="283.2" y="116.7" font-family="Liberation Sans" font-size="7.9" textLength="10.4" lengthAdjust="spacingAndGlyphs" fill="#2e2e2e" stroke="none">CD</text>
<text x="283.2" y="149.8" font-family="Liberation Sans" font-size="7.9" textLength="15" lengthAdjust="spacingAndGlyphs" fill="#2e2e2e" stroke="none">GND</text>
<text x="283.6" y="199" font-family="Liberation Sans" font-size="7.9" textLength="11.2" lengthAdjust="spacingAndGlyphs" fill="#2e2e2e" stroke="none">WP</text>
<path d="M189.5 221.8L221 221.8" stroke="#262626" stroke-width="0.62"/>
<path d="M211.3 221.8L208.3 222.55L208.3 221.05Z" fill="#262626" stroke="none"/>
<path d="M213.8 221.8L216.8 221.05L216.8 222.55Z" fill="#262626" stroke="none"/>
<g transform="translate(196.2 220.7)" stroke="none"><text x="-6" y="0" font-family="Liberation Sans" font-size="5.3" textLength="12" lengthAdjust="spacingAndGlyphs" fill="#383838">0.30</text></g>
<path d="M270 220.7L315.2 220.7" stroke="#262626" stroke-width="0.62"/>
<path d="M263.7 245.1L290 245.1" stroke="#262626" stroke-width="0.62"/>
<path d="M263.7 248.8L303.4 248.8" stroke="#262626" stroke-width="0.62"/>
<path d="M263.7 282.6L315.2 282.6" stroke="#262626" stroke-width="0.62"/>
<path d="M300.8 220.7L300.8 248.8" stroke="#262626" stroke-width="0.62"/>
<path d="M300.8 220.7L301.55 224.7L300.05 224.7Z" fill="#262626" stroke="none"/>
<path d="M300.8 248.8L300.05 244.8L301.55 244.8Z" fill="#262626" stroke="none"/>
<g transform="translate(299.5 235.4) rotate(-90)" stroke="none"><text x="-13.45" y="0" font-family="Liberation Sans" font-size="4.9" textLength="9.4" lengthAdjust="spacingAndGlyphs" fill="#383838">6.70</text><text x="-4.05" y="0" font-family="Liberation Sans" font-size="5.2" textLength="17.5" lengthAdjust="spacingAndGlyphs" fill="#262626">±0.30</text></g>
<path d="M312.8 220.7L312.8 282.6" stroke="#262626" stroke-width="0.62"/>
<path d="M312.8 220.7L313.55 224.7L312.05 224.7Z" fill="#262626" stroke="none"/>
<path d="M312.8 282.6L312.05 278.6L313.55 278.6Z" fill="#262626" stroke="none"/>
<g transform="translate(311.2 251.8) rotate(-90)" stroke="none"><text x="-14.75" y="0" font-family="Liberation Sans" font-size="4.9" textLength="11" lengthAdjust="spacingAndGlyphs" fill="#383838">14.70</text><text x="-3.75" y="0" font-family="Liberation Sans" font-size="5.2" textLength="18.5" lengthAdjust="spacingAndGlyphs" fill="#262626">±0.30</text></g>
<path d="M287.5 237.5L287.5 285" stroke="#262626" stroke-width="0.62"/>
<path d="M287.5 245.1L286.75 241.1L288.25 241.1Z" fill="#262626" stroke="none"/>
<path d="M287.5 248.8L288.25 252.8L286.75 252.8Z" fill="#262626" stroke="none"/>
<g transform="translate(286.2 271.8) rotate(-90)" stroke="none"><text x="-13.15" y="0" font-family="Liberation Sans" font-size="4.9" textLength="8.8" lengthAdjust="spacingAndGlyphs" fill="#383838">0.80</text><text x="-4.35" y="0" font-family="Liberation Sans" font-size="5.2" textLength="17.5" lengthAdjust="spacingAndGlyphs" fill="#262626">±0.30</text></g>
<path d="M162 282.5L162 311.2" stroke="#262626" stroke-width="0.62"/>
<path d="M263.7 282.5L263.7 311.2" stroke="#262626" stroke-width="0.62"/>
<path d="M162 309.3L263.7 309.3" stroke="#262626" stroke-width="0.62"/>
<path d="M162 309.3L166 308.55L166 310.05Z" fill="#262626" stroke="none"/>
<path d="M263.7 309.3L259.7 310.05L259.7 308.55Z" fill="#262626" stroke="none"/>
<g transform="translate(212.6 308.2)" stroke="none"><text x="-7.5" y="0" font-family="Liberation Sans" font-size="5.5" textLength="15" lengthAdjust="spacingAndGlyphs" fill="#383838">24.00</text></g>
<path d="M146.9 335L146.9 333.7L151.2 333.7L151.2 325.8Q151.2 323.2 153.8 323.2L269.4 323.2Q271.9 323.2 271.9 325.8L271.9 333.7L275.7 333.7L275.7 335" stroke="#1c1c1c" stroke-width="0.85" fill="none"/>
<path d="M153.4 323.2L270 323.2" stroke="#1c1c1c" stroke-width="1.3"/>
<path d="M153.6 325L153.6 333.7" stroke="#555" stroke-width="0.62"/>
<path d="M150 332.4L150 335" stroke="#1c1c1c" stroke-width="0.62"/>
<path d="M273.4 332.4L273.4 335" stroke="#1c1c1c" stroke-width="0.62"/>
<path d="M146.9 335L151.4 335" stroke="#1c1c1c" stroke-width="0.85"/>
<path d="M271.6 335L275.7 335" stroke="#1c1c1c" stroke-width="0.85"/>
<path d="M151.2 333.9L271.9 333.9" stroke="#1c1c1c" stroke-width="0.62"/>
<path d="M161.4 334.6L264 334.6" stroke="#555" stroke-width="0.62"/>
<path d="M160.7 324L160.7 334" stroke="#1c1c1c" stroke-width="1.0"/>
<path d="M264 324L264 334" stroke="#1c1c1c" stroke-width="1.0"/>
<path d="M191.4 324L191.4 333.9" stroke="#1c1c1c" stroke-width="0.62"/>
<path d="M192.3 331.4L192.3 326L193.2 324.8L194.4 324.8L195.3 326L195.3 331.4Z" stroke="#1c1c1c" stroke-width="0.9" fill="#fff"/>
<path d="M192.3 327.6L195.3 327.6" stroke="#1c1c1c" stroke-width="0.9"/>
<path d="M193.8 327.6L193.8 331.4" stroke="#777" stroke-width="0.5"/>
<path d="M203.1 331.4L203.1 326L204 324.8L205.2 324.8L206.1 326L206.1 331.4Z" stroke="#1c1c1c" stroke-width="0.9" fill="#fff"/>
<path d="M203.1 327.6L206.1 327.6" stroke="#1c1c1c" stroke-width="0.9"/>
<path d="M204.6 327.6L204.6 331.4" stroke="#777" stroke-width="0.5"/>
<path d="M213.5 331.4L213.5 326L214.4 324.8L215.6 324.8L216.5 326L216.5 331.4Z" stroke="#1c1c1c" stroke-width="0.9" fill="#fff"/>
<path d="M213.5 327.6L216.5 327.6" stroke="#1c1c1c" stroke-width="0.9"/>
<path d="M215 327.6L215 331.4" stroke="#777" stroke-width="0.5"/>
<path d="M224.1 331.4L224.1 326L225 324.8L226.2 324.8L227.1 326L227.1 331.4Z" stroke="#1c1c1c" stroke-width="0.9" fill="#fff"/>
<path d="M224.1 327.6L227.1 327.6" stroke="#1c1c1c" stroke-width="0.9"/>
<path d="M225.6 327.6L225.6 331.4" stroke="#777" stroke-width="0.5"/>
<path d="M235 331.4L235 326L235.9 324.8L237.1 324.8L238 326L238 331.4Z" stroke="#1c1c1c" stroke-width="0.9" fill="#fff"/>
<path d="M235 327.6L238 327.6" stroke="#1c1c1c" stroke-width="0.9"/>
<path d="M236.5 327.6L236.5 331.4" stroke="#777" stroke-width="0.5"/>
<path d="M245.4 331.4L245.4 326L246.3 324.8L247.5 324.8L248.4 326L248.4 331.4Z" stroke="#1c1c1c" stroke-width="0.9" fill="#fff"/>
<path d="M245.4 327.6L248.4 327.6" stroke="#1c1c1c" stroke-width="0.9"/>
<path d="M246.9 327.6L246.9 331.4" stroke="#777" stroke-width="0.5"/>
<path d="M252.2 331.4L252.2 326L253.1 324.8L254.3 324.8L255.2 326L255.2 331.4Z" stroke="#1c1c1c" stroke-width="0.9" fill="#fff"/>
<path d="M252.2 327.6L255.2 327.6" stroke="#1c1c1c" stroke-width="0.9"/>
<path d="M253.7 327.6L253.7 331.4" stroke="#777" stroke-width="0.5"/>
<path d="M238.7 326L245.4 326" stroke="#1c1c1c" stroke-width="1.0"/>
<rect x="259.6" y="327.6" width="2.2" height="3.6" rx="0" stroke="#1c1c1c" stroke-width="1.0" fill="#333"/>
<path d="M262.6 325L262.6 332" stroke="#555" stroke-width="0.5"/>
<path d="M162 326L162 332.6L164 332.6" stroke="#1c1c1c" stroke-width="0.62" fill="none"/>
<path d="M163 326L166.6 326L169.6 329.4L178 329.4" stroke="#1c1c1c" stroke-width="0.8" fill="none"/>
<rect x="170.2" y="325.2" width="4.2" height="3" rx="0" stroke="#1c1c1c" stroke-width="0.9" fill="#333"/>
<path d="M174.4 326.6L182 326.6" stroke="#1c1c1c" stroke-width="1.0"/>
<rect x="182" y="325.2" width="3.2" height="3" rx="0" stroke="#1c1c1c" stroke-width="0.9" fill="#fff"/>
<path d="M178 329.4L178 332.8M178 329.6L189.4 329.6L189.4 332.4" stroke="#1c1c1c" stroke-width="0.62" fill="none"/>
<path d="M164 332.6L190 332.6" stroke="#1c1c1c" stroke-width="0.62"/>
<path d="M171.9 334L171.9 336.4Q171.9 338 173.4 338L175.4 338Q176.9 338 176.9 336.4L176.9 334" stroke="#1c1c1c" stroke-width="0.8" fill="none"/>
<path d="M248.2 334L248.2 336.2Q248.2 337.7 249.6 337.7L252.3 337.7Q253.7 337.7 253.7 336.2L253.7 334" stroke="#1c1c1c" stroke-width="0.8" fill="none"/>
<path d="M173.4 336.6L175.4 336.6" stroke="#1c1c1c" stroke-width="0.62"/>
<path d="M249.8 336.4L252.2 336.4" stroke="#1c1c1c" stroke-width="0.62"/>
<path d="M161.5 334.4L161.5 355.6" stroke="#262626" stroke-width="0.62"/>
<path d="M263.8 334.4L263.8 355.6" stroke="#262626" stroke-width="0.62"/>
<path d="M211.6 335L211.6 347" stroke="#262626" stroke-width="0.62"/>
<path d="M211.6 345L263.8 345" stroke="#262626" stroke-width="0.62"/>
<path d="M211.6 345L215.6 344.25L215.6 345.75Z" fill="#262626" stroke="none"/>
<path d="M263.8 345L259.8 345.75L259.8 344.25Z" fill="#262626" stroke="none"/>
<g transform="translate(237.7 343.7)" stroke="none"><text x="-7.12" y="0" font-family="Liberation Sans" font-size="5.3" textLength="14.25" lengthAdjust="spacingAndGlyphs" fill="#383838">12.38</text></g>
<path d="M161.5 353.4L263.8 353.4" stroke="#262626" stroke-width="0.62"/>
<path d="M161.5 353.4L165.5 352.65L165.5 354.15Z" fill="#262626" stroke="none"/>
<path d="M263.8 353.4L259.8 354.15L259.8 352.65Z" fill="#262626" stroke="none"/>
<g transform="translate(212.6 352.3)" stroke="none"><text x="-7.5" y="0" font-family="Liberation Sans" font-size="5.3" textLength="15" lengthAdjust="spacingAndGlyphs" fill="#383838">24.16</text></g>
<path d="M99.4 208L99.4 94L111.3 94L111.3 208" stroke="#1c1c1c" stroke-width="0.85" fill="none"/>
<path d="M101.5 99.4L101.5 208" stroke="#444" stroke-width="1.3"/>
<path d="M108.7 94L108.7 184" stroke="#1c1c1c" stroke-width="0.62"/>
<path d="M110.2 160L110.2 185" stroke="#1c1c1c" stroke-width="1.4"/>
<rect x="102.7" y="100.5" width="4.1" height="7.9" rx="0.8" stroke="#1c1c1c" stroke-width="1.2" fill="#bbb"/>
<rect x="102.7" y="134.3" width="4.1" height="7.3" rx="0.8" stroke="#1c1c1c" stroke-width="1.2" fill="#bbb"/>
<rect x="102.7" y="167.3" width="4.1" height="6.5" rx="0.8" stroke="#1c1c1c" stroke-width="1.2" fill="#bbb"/>
<path d="M98.6 97L98.6 100" stroke="#1c1c1c" stroke-width="0.8"/>
<path d="M98.6 120L98.6 126" stroke="#555" stroke-width="0.8"/>
<rect x="95.8" y="196.4" width="3.6" height="6.5" rx="0" stroke="#1c1c1c" stroke-width="0.85" fill="none"/>
<rect x="99.6" y="209.3" width="11.1" height="11.7" rx="0" stroke="#1c1c1c" stroke-width="0.85" fill="none"/>
<rect x="99.8" y="209.3" width="10.7" height="1.7" rx="0" stroke="#222" stroke-width="0.5" fill="#444"/>
<rect x="102" y="211.8" width="4.6" height="5" rx="0.6" stroke="#1c1c1c" stroke-width="1.2" fill="#fff"/>
<path d="M103.4 214.3L105.2 214.3" stroke="#1c1c1c" stroke-width="1.2"/>
<path d="M99.6 219.6L110.7 219.6" stroke="#1c1c1c" stroke-width="0.62"/>
<path d="M100.4 221L100.4 248.8L109.6 248.8L109.6 221" stroke="#1c1c1c" stroke-width="0.85" fill="none"/>
<path d="M102 221L102 245.6" stroke="#1c1c1c" stroke-width="0.62"/>
<path d="M102 245.6L108.2 245.6" stroke="#1c1c1c" stroke-width="0.62"/>
<path d="M108.2 223L108.2 248.8" stroke="#1c1c1c" stroke-width="0.62"/>
<path d="M106.6 226L106.6 245.6" stroke="#666" stroke-width="0.62"/>
<path d="M66.2 86L111.3 86" stroke="#262626" stroke-width="0.62"/>
<path d="M99.4 83L99.4 94" stroke="#262626" stroke-width="0.62"/>
<path d="M111.3 83L111.3 94" stroke="#262626" stroke-width="0.62"/>
<path d="M99.4 86L102.6 85.25L102.6 86.75Z" fill="#262626" stroke="none"/>
<path d="M111.3 86L108.1 86.75L108.1 85.25Z" fill="#262626" stroke="none"/>
<g transform="translate(80.2 84.5)" stroke="none"><text x="-13.3" y="0" font-family="Liberation Sans" font-size="5.3" textLength="11.6" lengthAdjust="spacingAndGlyphs" fill="#383838">2.85</text><text x="-1.7" y="0" font-family="Liberation Sans" font-size="5.5" textLength="15" lengthAdjust="spacingAndGlyphs" fill="#262626">±0.10</text></g>
<path d="M100.2 248.8L100.2 266.4" stroke="#262626" stroke-width="0.62"/>
<path d="M109.5 248.8L109.5 266.4" stroke="#262626" stroke-width="0.62"/>
<path d="M101.8 248.8L101.8 258" stroke="#262626" stroke-width="0.62"/>
<path d="M90.7 256L122.6 256" stroke="#262626" stroke-width="0.62"/>
<path d="M100 256L96.4 256.75L96.4 255.25Z" fill="#262626" stroke="none"/>
<path d="M101.9 256L105.5 255.25L105.5 256.75Z" fill="#262626" stroke="none"/>
<g transform="translate(116.4 254.8)" stroke="none"><text x="-6.2" y="0" font-family="Liberation Sans" font-size="5.3" textLength="12.4" lengthAdjust="spacingAndGlyphs" fill="#383838">0.40</text></g>
<path d="M92.5 264.5L131.4 264.5" stroke="#262626" stroke-width="0.62"/>
<path d="M100.2 264.5L96.6 265.25L96.6 263.75Z" fill="#262626" stroke="none"/>
<path d="M109.5 264.5L113.1 263.75L113.1 265.25Z" fill="#262626" stroke="none"/>
<g transform="translate(125.2 263.3)" stroke="none"><text x="-6" y="0" font-family="Liberation Sans" font-size="5.3" textLength="12" lengthAdjust="spacingAndGlyphs" fill="#383838">2.10</text></g>
<path d="M330.6 220L330.6 94.2L342.5 94.2L342.5 99" stroke="#1c1c1c" stroke-width="0.85" fill="none"/>
<path d="M332.6 94.2L332.6 208" stroke="#555" stroke-width="1.2"/>
<path d="M340.9 94.2L340.9 101" stroke="#1c1c1c" stroke-width="0.62"/>
<rect x="335" y="100.8" width="3.4" height="6.8" rx="0.7" stroke="#1c1c1c" stroke-width="1.2" fill="#fff"/>
<rect x="335" y="133.3" width="3.4" height="6.9" rx="0.7" stroke="#1c1c1c" stroke-width="1.2" fill="#fff"/>
<rect x="335" y="166.6" width="3.4" height="7" rx="0.7" stroke="#1c1c1c" stroke-width="1.2" fill="#fff"/>
<path d="M340.9 101L340.9 110L337.6 110L336.6 114.2L337.8 116.8L342.5 117.5L342.5 111L340.9 110" stroke="#1c1c1c" stroke-width="0.85" fill="none"/>
<rect x="340" y="110.8" width="2.3" height="4.4" rx="0" stroke="#222" stroke-width="0.6" fill="#444"/>
<path d="M337.8 116.8L340.9 120" stroke="#1c1c1c" stroke-width="0.85" fill="none"/>
<path d="M340.9 133.6L340.9 142.6L337.6 142.6L336.6 146.8L337.8 149.4L342.5 150.1L342.5 143.6L340.9 142.6" stroke="#1c1c1c" stroke-width="0.85" fill="none"/>
<rect x="340" y="143.4" width="2.3" height="4.4" rx="0" stroke="#222" stroke-width="0.6" fill="#444"/>
<path d="M337.8 149.4L340.9 152.6" stroke="#1c1c1c" stroke-width="0.85" fill="none"/>
<path d="M342.5 99L340.9 102" stroke="#1c1c1c" stroke-width="0.85"/>
<path d="M340.9 120L340.9 134" stroke="#1c1c1c" stroke-width="0.85"/>
<path d="M340.9 152.6L340.9 190" stroke="#1c1c1c" stroke-width="0.85"/>
<path d="M340.9 190L338 190L337 194.2L338.2 196.8L342.5 197.5L342.5 191L340.9 190" stroke="#1c1c1c" stroke-width="0.85" fill="none"/>
<rect x="340" y="190.8" width="2.3" height="4.2" rx="0" stroke="#222" stroke-width="0.6" fill="#444"/>
<path d="M342.5 197.5L345.3 198.3L345.3 220" stroke="#1c1c1c" stroke-width="0.85" fill="none"/>
<path d="M342.5 197.5L342.5 208.2" stroke="#1c1c1c" stroke-width="0.85"/>
<rect x="330.6" y="208.2" width="11.9" height="9.4" rx="0" stroke="#1c1c1c" stroke-width="0.85" fill="none"/>
<path d="M330.6 219.8L342.5 219.8" stroke="#1c1c1c" stroke-width="0.85"/>
<rect x="334.8" y="211.3" width="3.8" height="4" rx="0.5" stroke="#1c1c1c" stroke-width="1.2" fill="#fff"/>
<path d="M331.6 208.2L331.6 212" stroke="#1c1c1c" stroke-width="1.8"/>
<path d="M331.6 217.6L331.6 220" stroke="#1c1c1c" stroke-width="1.8"/>
<path d="M330.3 219L330.3 240.8" stroke="#262626" stroke-width="0.62"/>
<path d="M342.7 220L342.7 231.6" stroke="#262626" stroke-width="0.62"/>
<path d="M345.3 220L345.3 240.8" stroke="#262626" stroke-width="0.62"/>
<path d="M330.3 230.4L375.3 230.4" stroke="#262626" stroke-width="0.62"/>
<path d="M330.3 230.4L333.5 229.65L333.5 231.15Z" fill="#262626" stroke="none"/>
<path d="M342.7 230.4L339.5 231.15L339.5 229.65Z" fill="#262626" stroke="none"/>
<g transform="translate(361.6 229.1)" stroke="none"><text x="-13.3" y="0" font-family="Liberation Sans" font-size="5.3" textLength="11.6" lengthAdjust="spacingAndGlyphs" fill="#383838">2.85</text><text x="-1.7" y="0" font-family="Liberation Sans" font-size="5.5" textLength="15" lengthAdjust="spacingAndGlyphs" fill="#262626">±0.10</text></g>
<path d="M330.3 239.7L345.3 239.7" stroke="#262626" stroke-width="0.62"/>
<path d="M330.3 239.7L334.3 238.95L334.3 240.45Z" fill="#262626" stroke="none"/>
<path d="M345.3 239.7L341.3 240.45L341.3 238.95Z" fill="#262626" stroke="none"/>
<g transform="translate(338 238.6)" stroke="none"><text x="-5.6" y="0" font-family="Liberation Sans" font-size="5.3" textLength="11.2" lengthAdjust="spacingAndGlyphs" fill="#383838">3.50</text></g>
<path d="M406.6 220.5L406.6 94.2L417.6 94.2L417.6 101.3L510.8 101.3L510.8 94.2L526.8 94.2L526.8 101.3" stroke="#1c1c1c" stroke-width="0.85" fill="none"/>
<path d="M406.6 94.2L406.6 216" stroke="#1c1c1c" stroke-width="1.5"/>
<path d="M525.8 101.3L525.8 220.5" stroke="#555" stroke-width="0.9"/>
<path d="M527 101.3L527 220.5" stroke="#555" stroke-width="0.8"/>
<path d="M527.2 95L527.2 107.6" stroke="#1c1c1c" stroke-width="1.2"/>
<path d="M527.2 133L527.2 140" stroke="#1c1c1c" stroke-width="1.2"/>
<path d="M527.2 158L527.2 165" stroke="#1c1c1c" stroke-width="1.2"/>
<path d="M527.2 186L527.2 196" stroke="#1c1c1c" stroke-width="1.2"/>
<rect x="422.45" y="95" width="2.3" height="6.3" rx="0.9" stroke="#1c1c1c" stroke-width="0.85" fill="#fff"/>
<rect x="422.7" y="98.8" width="1.8" height="2.5" rx="0" stroke="#1c1c1c" stroke-width="0.5" fill="#333"/>
<rect x="429.45" y="95" width="2.3" height="6.3" rx="0.9" stroke="#1c1c1c" stroke-width="0.85" fill="#fff"/>
<rect x="429.7" y="98.8" width="1.8" height="2.5" rx="0" stroke="#1c1c1c" stroke-width="0.5" fill="#333"/>
<rect x="440.05" y="95" width="2.3" height="6.3" rx="0.9" stroke="#1c1c1c" stroke-width="0.85" fill="#fff"/>
<rect x="440.3" y="98.8" width="1.8" height="2.5" rx="0" stroke="#1c1c1c" stroke-width="0.5" fill="#333"/>
<rect x="450.75" y="95" width="2.3" height="6.3" rx="0.9" stroke="#1c1c1c" stroke-width="0.85" fill="#fff"/>
<rect x="451" y="98.8" width="1.8" height="2.5" rx="0" stroke="#1c1c1c" stroke-width="0.5" fill="#333"/>
<rect x="461.35" y="95" width="2.3" height="6.3" rx="0.9" stroke="#1c1c1c" stroke-width="0.85" fill="#fff"/>
<rect x="461.6" y="98.8" width="1.8" height="2.5" rx="0" stroke="#1c1c1c" stroke-width="0.5" fill="#333"/>
<rect x="471.95" y="95" width="2.3" height="6.3" rx="0.9" stroke="#1c1c1c" stroke-width="0.85" fill="#fff"/>
<rect x="472.2" y="98.8" width="1.8" height="2.5" rx="0" stroke="#1c1c1c" stroke-width="0.5" fill="#333"/>
<rect x="482.35" y="95" width="2.3" height="6.3" rx="0.9" stroke="#1c1c1c" stroke-width="0.85" fill="#fff"/>
<rect x="482.6" y="98.8" width="1.8" height="2.5" rx="0" stroke="#1c1c1c" stroke-width="0.5" fill="#333"/>
<rect x="493.05" y="95" width="2.3" height="6.3" rx="0.9" stroke="#1c1c1c" stroke-width="0.85" fill="#fff"/>
<rect x="493.3" y="98.8" width="1.8" height="2.5" rx="0" stroke="#1c1c1c" stroke-width="0.5" fill="#333"/>
<rect x="503.65" y="95" width="2.3" height="6.3" rx="0.9" stroke="#1c1c1c" stroke-width="0.85" fill="#fff"/>
<rect x="503.9" y="98.8" width="1.8" height="2.5" rx="0" stroke="#1c1c1c" stroke-width="0.5" fill="#333"/>
<path d="M466.6 84.6L466.6 247.5" stroke="#262626" stroke-width="0.62"/>
<path d="M406.6 220.5L424.4 220.5Q428.6 219.4 429.5 211L434.6 169.7A31.4 31.4 0 0 1 497.4 169.7L501.4 200.8L502.9 212.5Q503.8 219.8 508.4 220.5L526.4 220.5" stroke="#1c1c1c" stroke-width="0.85" fill="none"/>
<path d="M425.6 220.5Q466.6 204.3 507.4 220.5" stroke="#1c1c1c" stroke-width="0.85" fill="none"/>
<rect x="517.5" y="100.3" width="6.7" height="28.9" rx="0" stroke="#1c1c1c" stroke-width="1.1" fill="#ccc"/>
<rect x="518.9" y="101.8" width="3.9" height="26" rx="0" stroke="#333" stroke-width="0.5" fill="#eee"/>
<path d="M518.9 103.2L522.8 103.2" stroke="#444" stroke-width="0.45"/>
<path d="M518.9 105L522.8 105" stroke="#444" stroke-width="0.45"/>
<path d="M518.9 106.8L522.8 106.8" stroke="#444" stroke-width="0.45"/>
<path d="M518.9 108.6L522.8 108.6" stroke="#444" stroke-width="0.45"/>
<path d="M518.9 110.4L522.8 110.4" stroke="#444" stroke-width="0.45"/>
<path d="M518.9 112.2L522.8 112.2" stroke="#444" stroke-width="0.45"/>
<path d="M518.9 114L522.8 114" stroke="#444" stroke-width="0.45"/>
<path d="M518.9 115.8L522.8 115.8" stroke="#444" stroke-width="0.45"/>
<path d="M518.9 117.6L522.8 117.6" stroke="#444" stroke-width="0.45"/>
<path d="M518.9 119.4L522.8 119.4" stroke="#444" stroke-width="0.45"/>
<path d="M518.9 121.2L522.8 121.2" stroke="#444" stroke-width="0.45"/>
<path d="M518.9 123L522.8 123" stroke="#444" stroke-width="0.45"/>
<path d="M518.9 124.8L522.8 124.8" stroke="#444" stroke-width="0.45"/>
<path d="M518.9 126.6L522.8 126.6" stroke="#444" stroke-width="0.45"/>
<path d="M519 124.6L520.6 127L523 127" stroke="#1c1c1c" stroke-width="0.8" fill="none"/>
<path d="M486.8 103.3L509.2 103.3L509.2 117.5L500.6 117.5L500.6 110L486.8 110Z" stroke="#1c1c1c" stroke-width="0.85" fill="none"/>
<path d="M486.8 108.3L500.6 108.3" stroke="#1c1c1c" stroke-width="0.62"/>
<path d="M491.4 103.3L491.4 108.3" stroke="#1c1c1c" stroke-width="0.9"/>
<path d="M493.8 103.3L493.8 108.3" stroke="#1c1c1c" stroke-width="0.9"/>
<path d="M503.4 103.3L503.4 108.3" stroke="#1c1c1c" stroke-width="0.62"/>
<path d="M500.6 110L509.2 110" stroke="#1c1c1c" stroke-width="0.62"/>
<path d="M500.6 113.6L502.4 116.2L506.6 116.2" stroke="#1c1c1c" stroke-width="0.62" fill="none"/>
<path d="M407.4 127.8L410.6 127.8Q412 128.7 410.6 129.6L407.4 129.6" stroke="#1c1c1c" stroke-width="0.7" fill="none"/>
<path d="M407.4 130.3L410.6 130.3Q412 131.2 410.6 132.1L407.4 132.1" stroke="#1c1c1c" stroke-width="0.7" fill="none"/>
<path d="M407.4 132.8L410.6 132.8Q412 133.7 410.6 134.6L407.4 134.6" stroke="#1c1c1c" stroke-width="0.7" fill="none"/>
<path d="M407.4 135.3L410.6 135.3Q412 136.2 410.6 137.1L407.4 137.1" stroke="#1c1c1c" stroke-width="0.7" fill="none"/>
<path d="M407.4 137.8L410.6 137.8Q412 138.7 410.6 139.6L407.4 139.6" stroke="#1c1c1c" stroke-width="0.7" fill="none"/>
<path d="M407.4 140.3L410.6 140.3Q412 141.2 410.6 142.1L407.4 142.1" stroke="#1c1c1c" stroke-width="0.7" fill="none"/>
<path d="M407.4 160.6L410.6 160.6Q412 161.5 410.6 162.4L407.4 162.4" stroke="#1c1c1c" stroke-width="0.7" fill="none"/>
<path d="M407.4 163.1L410.6 163.1Q412 164 410.6 164.9L407.4 164.9" stroke="#1c1c1c" stroke-width="0.7" fill="none"/>
<path d="M407.4 165.6L410.6 165.6Q412 166.5 410.6 167.4L407.4 167.4" stroke="#1c1c1c" stroke-width="0.7" fill="none"/>
<path d="M407.4 168.1L410.6 168.1Q412 169 410.6 169.9L407.4 169.9" stroke="#1c1c1c" stroke-width="0.7" fill="none"/>
<path d="M407.4 170.6L410.6 170.6Q412 171.5 410.6 172.4L407.4 172.4" stroke="#1c1c1c" stroke-width="0.7" fill="none"/>
<path d="M407.4 173.1L410.6 173.1Q412 174 410.6 174.9L407.4 174.9" stroke="#1c1c1c" stroke-width="0.7" fill="none"/>
<path d="M407.4 175.6L410.6 175.6Q412 176.5 410.6 177.4L407.4 177.4" stroke="#1c1c1c" stroke-width="0.7" fill="none"/>
<rect x="414.7" y="127.5" width="3.6" height="15.1" rx="0" stroke="#1c1c1c" stroke-width="0.85" fill="none"/>
<rect x="415.7" y="132" width="1.6" height="6.6" rx="0" stroke="#1c1c1c" stroke-width="0.62" fill="none"/>
<rect x="413.6" y="167.4" width="4.4" height="44.9" rx="0" stroke="#1c1c1c" stroke-width="0.85" fill="none"/>
<path d="M415.8 169L415.8 210.6" stroke="#555" stroke-width="0.62"/>
<rect x="407.8" y="101.8" width="2" height="4" rx="0" stroke="#222" stroke-width="0.4" fill="#333"/>
<rect x="407.8" y="119.2" width="2" height="4" rx="0" stroke="#222" stroke-width="0.4" fill="#333"/>
<rect x="407.8" y="152.6" width="2" height="4" rx="0" stroke="#222" stroke-width="0.4" fill="#333"/>
<rect x="407.8" y="184" width="2" height="4" rx="0" stroke="#222" stroke-width="0.4" fill="#333"/>
<rect x="405" y="110.1" width="3.3" height="4" rx="0" stroke="#1c1c1c" stroke-width="0.8" fill="#fff"/>
<path d="M405 110.1L406.6 113L408.3 110.1" stroke="#1c1c1c" stroke-width="0.62" fill="none"/>
<path d="M408.3 110.1L410.6 110.1L410.6 114.1L408.3 114.1" stroke="#1c1c1c" stroke-width="0.62" fill="none"/>
<rect x="405" y="143.2" width="3.3" height="4" rx="0" stroke="#1c1c1c" stroke-width="0.8" fill="#fff"/>
<path d="M405 143.2L406.6 146.1L408.3 143.2" stroke="#1c1c1c" stroke-width="0.62" fill="none"/>
<path d="M408.3 143.2L410.6 143.2L410.6 147.2L408.3 147.2" stroke="#1c1c1c" stroke-width="0.62" fill="none"/>
<rect x="405" y="192.7" width="3.3" height="4" rx="0" stroke="#1c1c1c" stroke-width="0.8" fill="#fff"/>
<path d="M405 192.7L406.6 195.6L408.3 192.7" stroke="#1c1c1c" stroke-width="0.62" fill="none"/>
<path d="M408.3 192.7L410.6 192.7L410.6 196.7L408.3 196.7" stroke="#1c1c1c" stroke-width="0.62" fill="none"/>
<path d="M407.3 220.5L407.3 217.4" stroke="#1c1c1c" stroke-width="0.85" fill="none"/>
<path d="M401.6 210.8L405 212.4L402 213.6L405 215.2" stroke="#1c1c1c" stroke-width="0.7" fill="none"/>
<rect x="405" y="209.6" width="3.6" height="7.2" rx="0" stroke="#1c1c1c" stroke-width="0.9" fill="#fff"/>
<rect x="410.5" y="202.8" width="2.5" height="14.2" rx="0" stroke="#1c1c1c" stroke-width="0.9" fill="#fff"/>
<rect x="523.3" y="210" width="4.1" height="6.7" rx="0" stroke="#1c1c1c" stroke-width="1.2" fill="#fff"/>
<path d="M527.4 210.8L530.8 212.2L528.4 213.4L530.8 214.8L527.4 216" stroke="#1c1c1c" stroke-width="0.7" fill="none"/>
<path d="M522.6 158.6L522.6 164.6" stroke="#1c1c1c" stroke-width="0.62"/>
<circle cx="427.1" cy="199.6" r="1.9" stroke="#111" stroke-width="1.1" fill="#444"/>
<path d="M422.5 199.6L431.7 199.6" stroke="#1c1c1c" stroke-width="0.62"/>
<path d="M427.1 194.6L427.1 204.6" stroke="#1c1c1c" stroke-width="0.62"/>
<circle cx="503" cy="199.6" r="1.9" stroke="#111" stroke-width="1.1" fill="#444"/>
<path d="M498.4 199.6L507.6 199.6" stroke="#1c1c1c" stroke-width="0.62"/>
<path d="M503 194.6L503 204.6" stroke="#1c1c1c" stroke-width="0.62"/>
<path d="M503 199.6L542.6 199.6" stroke="#262626" stroke-width="0.8"/>
<path d="M432.7 203.8L433.7 170.9Q433.8 169.8 434.9 169.8L441 169.8Q442.2 169.8 442.2 171L442.2 202.8Q442.2 204.2 440.8 204.2Z" stroke="#1c1c1c" stroke-width="0.85" fill="none"/>
<path d="M433.7 173.6L442.2 173.6" stroke="#1c1c1c" stroke-width="0.62"/>
<path d="M434 178.3L442.2 178.3" stroke="#1c1c1c" stroke-width="0.62"/>
<path d="M439.4 178.3L439.4 201" stroke="#1c1c1c" stroke-width="0.62"/>
<path d="M435.7 178.3L434.2 201" stroke="#1c1c1c" stroke-width="0.62"/>
<path d="M430.8 201L442.2 201" stroke="#1c1c1c" stroke-width="0.62"/>
<path d="M493.6 201L493.6 171.4Q493.6 170.4 494.6 170.4L496 170.4Q496.8 170.4 496.9 171.4L499 202.6L493.6 202.6Z" stroke="#1c1c1c" stroke-width="0.85" fill="none"/>
<path d="M495.2 172L495.8 201" stroke="#1c1c1c" stroke-width="0.62"/>
<path d="M493.6 201L500.6 201" stroke="#1c1c1c" stroke-width="0.62"/>
<rect x="512.2" y="195.3" width="4.5" height="17.7" rx="0" stroke="#1c1c1c" stroke-width="0.85" fill="none"/>
<rect x="513.4" y="197" width="2.1" height="14.4" rx="0" stroke="#1c1c1c" stroke-width="0.62" fill="none"/>
<path d="M365 94.2L406.6 94.2" stroke="#262626" stroke-width="0.62"/>
<path d="M390.8 112.2L404.6 112.2" stroke="#262626" stroke-width="0.8"/>
<path d="M383 145.3L404.6 145.3" stroke="#262626" stroke-width="0.8"/>
<path d="M373.4 194.8L404.6 194.8" stroke="#262626" stroke-width="0.62"/>
<path d="M365 212.8L402 212.8" stroke="#262626" stroke-width="0.62"/>
<path d="M393.4 94.2L393.4 112.2" stroke="#262626" stroke-width="0.62"/>
<path d="M393.4 94.2L394.15 98.2L392.65 98.2Z" fill="#262626" stroke="none"/>
<path d="M393.4 112.2L392.65 108.2L394.15 108.2Z" fill="#262626" stroke="none"/>
<g transform="translate(392.3 102.6) rotate(-90)" stroke="none"><text x="-5.8" y="0" font-family="Liberation Sans" font-size="5.3" textLength="11.6" lengthAdjust="spacingAndGlyphs" fill="#383838">4.35</text></g>
<path d="M385 94.2L385 145.3" stroke="#262626" stroke-width="0.62"/>
<path d="M385 94.2L385.75 98.2L384.25 98.2Z" fill="#262626" stroke="none"/>
<path d="M385 145.3L384.25 141.3L385.75 141.3Z" fill="#262626" stroke="none"/>
<g transform="translate(383.8 120) rotate(-90)" stroke="none"><text x="-6.88" y="0" font-family="Liberation Sans" font-size="5.3" textLength="13.75" lengthAdjust="spacingAndGlyphs" fill="#383838">12.15</text></g>
<path d="M376.2 94.2L376.2 194.8" stroke="#262626" stroke-width="0.62"/>
<path d="M376.2 94.2L376.95 98.2L375.45 98.2Z" fill="#262626" stroke="none"/>
<path d="M376.2 194.8L375.45 190.8L376.95 190.8Z" fill="#262626" stroke="none"/>
<g transform="translate(375 144.4) rotate(-90)" stroke="none"><text x="-6.88" y="0" font-family="Liberation Sans" font-size="5.3" textLength="13.75" lengthAdjust="spacingAndGlyphs" fill="#383838">23.90</text></g>
<path d="M367.5 94.2L367.5 212.8" stroke="#262626" stroke-width="0.62"/>
<path d="M367.5 94.2L368.25 98.2L366.75 98.2Z" fill="#262626" stroke="none"/>
<path d="M367.5 212.8L366.75 208.8L368.25 208.8Z" fill="#262626" stroke="none"/>
<g transform="translate(366.3 155) rotate(-90)" stroke="none"><text x="-6.88" y="0" font-family="Liberation Sans" font-size="5.3" textLength="13.75" lengthAdjust="spacingAndGlyphs" fill="#383838">24.25</text></g>
<path d="M526.4 94.2L542.6 94.2" stroke="#262626" stroke-width="0.62"/>
<path d="M540.8 94.2L540.8 199.6" stroke="#262626" stroke-width="0.62"/>
<path d="M540.8 94.2L541.55 98.2L540.05 98.2Z" fill="#262626" stroke="none"/>
<path d="M540.8 199.6L540.05 195.6L541.55 195.6Z" fill="#262626" stroke="none"/>
<g transform="translate(539.6 147.2) rotate(-90)" stroke="none"><text x="-6.88" y="0" font-family="Liberation Sans" font-size="5.3" textLength="13.75" lengthAdjust="spacingAndGlyphs" fill="#383838">24.95</text></g>
<path d="M503.7 192.5L503.7 235.2" stroke="#262626" stroke-width="0.62"/>
<path d="M526.4 220.5L526.4 247.5" stroke="#262626" stroke-width="0.62"/>
<path d="M466.6 233.8L503.7 233.8" stroke="#262626" stroke-width="0.62"/>
<path d="M466.6 233.8L470.6 233.05L470.6 234.55Z" fill="#262626" stroke="none"/>
<path d="M503.7 233.8L499.7 234.55L499.7 233.05Z" fill="#262626" stroke="none"/>
<g transform="translate(484.8 232.6)" stroke="none"><text x="-13.5" y="0" font-family="Liberation Sans" font-size="5.3" textLength="12" lengthAdjust="spacingAndGlyphs" fill="#383838">8.70</text><text x="-1.5" y="0" font-family="Liberation Sans" font-size="5.5" textLength="15" lengthAdjust="spacingAndGlyphs" fill="#262626">±0.10</text></g>
<path d="M466.6 245.8L526.4 245.8" stroke="#262626" stroke-width="0.62"/>
<path d="M466.6 245.8L470.6 245.05L470.6 246.55Z" fill="#262626" stroke="none"/>
<path d="M526.4 245.8L522.4 246.55L522.4 245.05Z" fill="#262626" stroke="none"/>
<g transform="translate(496.7 244.7)" stroke="none"><text x="-7" y="0" font-family="Liberation Sans" font-size="5.3" textLength="14" lengthAdjust="spacingAndGlyphs" fill="#383838">14.30</text></g>
</svg>
</body></html>
